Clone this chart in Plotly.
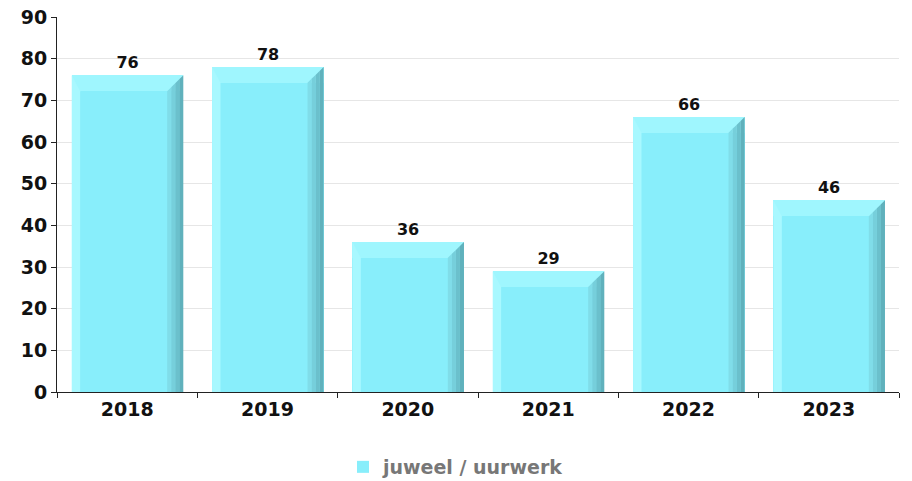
import plotly.graph_objects as go

years = ["2018", "2019", "2020", "2021", "2022", "2023"]
values = [76, 78, 36, 29, 66, 46]
series_name = "juweel / uurwerk"
y_ticks = [0, 10, 20, 30, 40, 50, 60, 70, 80, 90]

MAIN = "#88EEFB"
CAP = "#9FF6FE"
LEFT = "#A8F8FF"
RIGHT_SHADES = ["#80DDE9", "#76CFDB", "#6BC0CC", "#60B1BC"]

idx = list(range(len(years)))
L_OUT, L_IN = -0.395, -0.335   # left bevel strip (relative to category center)
R_IN, R_OUT = 0.285, 0.40      # right side face
CAP_H = 3.8                    # cap thickness in data units

fig = go.Figure()

fig.add_trace(go.Bar(
    x=[i + (L_OUT + R_OUT) / 2 for i in idx], y=values, width=R_OUT - L_OUT,
    marker=dict(color=MAIN, line=dict(width=0)),
    name=series_name, showlegend=True,
    text=[str(v) for v in values], textposition="outside",
    textfont=dict(family="DejaVu Sans", size=16, color="#111111", weight="bold"),
    cliponaxis=False, hoverinfo="skip",
))

# top cap
fig.add_trace(go.Bar(
    x=[i + (L_OUT + R_OUT) / 2 for i in idx], y=[CAP_H] * len(values),
    base=[v - CAP_H for v in values], width=R_OUT - L_OUT,
    marker=dict(color=CAP, line=dict(width=0)), showlegend=False, hoverinfo="skip",
))

for i, v in zip(idx, values):
    # left bevel
    xs = [i + L_OUT, i + L_IN, i + L_IN, i + L_OUT, i + L_OUT]
    ys = [0, 0, v - CAP_H, v, 0]
    fig.add_trace(go.Scatter(x=xs, y=ys, fill="toself", fillcolor=LEFT, mode="none",
                             showlegend=False, hoverinfo="skip"))
    # right side face with gradient strips
    n = len(RIGHT_SHADES)
    for k, col in enumerate(RIGHT_SHADES):
        a = R_IN + (R_OUT - R_IN) * k / n
        b = R_IN + (R_OUT - R_IN) * (k + 1) / n
        ya = v - CAP_H + CAP_H * k / n
        yb = v - CAP_H + CAP_H * (k + 1) / n
        xs = [i + a, i + b, i + b, i + a, i + a]
        ys = [0, 0, yb, ya, 0]
        fig.add_trace(go.Scatter(x=xs, y=ys, fill="toself", fillcolor=col, mode="none",
                                 showlegend=False, hoverinfo="skip"))

fig.update_layout(
    width=912, height=481,
    margin=dict(l=57, r=13, t=17, b=89, autoexpand=False),
    paper_bgcolor="white", plot_bgcolor="white",
    barmode="overlay", bargap=0,
    font=dict(family="DejaVu Sans", size=19, color="#222222"),
    showlegend=True,
    legend=dict(orientation="h", x=0.5, xanchor="center", xref="container",
                y=14 / 481, yanchor="middle", yref="container",
                font=dict(family="DejaVu Sans", size=19, color="#777777", weight="bold"),
                itemsizing="constant", itemwidth=30),
    xaxis=dict(
        range=[-0.5, len(years) - 0.5], tickvals=idx, ticktext=years, ticks="",
        showgrid=False, zeroline=False, showline=True, linecolor="#222222", linewidth=1,
        tickfont=dict(family="DejaVu Sans", size=19, color="#111111", weight="bold"),
        minor=dict(ticks="outside", tick0=0.5, dtick=1, ticklen=5, tickcolor="#222222", showgrid=False),
        fixedrange=True, automargin=False,
    ),
    yaxis=dict(
        range=[0, 90], tickvals=y_ticks, ticks="outside", ticklen=5, tickcolor="#222222",
        showgrid=True, gridcolor="#E6E6E6", zeroline=False,
        showline=True, linecolor="#222222", linewidth=1,
        tickfont=dict(family="DejaVu Sans", size=19, color="#111111", weight="bold"),
        fixedrange=True, automargin=False,
    ),
)

fig.write_html("out.html", config={"displayModeBar": False},
               post_script="document.body.style.margin='0';document.body.style.overflow='hidden';")
